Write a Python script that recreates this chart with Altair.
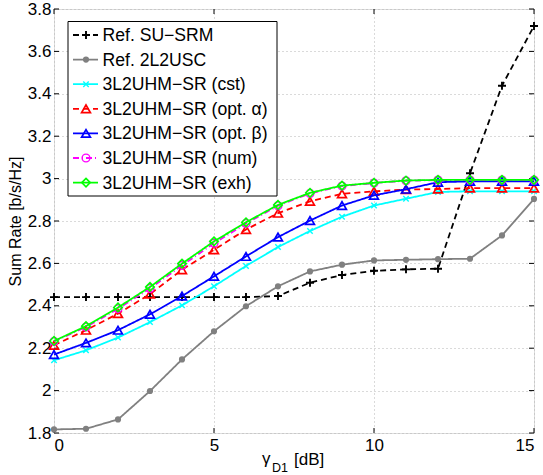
import altair as alt
import pandas as pd

# ---------------- data ----------------
x_db = list(range(16))
ref_su_srm = [2.441, 2.441, 2.441, 2.441, 2.441, 2.441, 2.441, 2.446, 2.509, 2.545, 2.565, 2.572, 2.575, 3.025, 3.438, 3.720]
ref_2l2usc = [1.817, 1.820, 1.864, 1.998, 2.147, 2.280, 2.398, 2.492, 2.562, 2.594, 2.614, 2.617, 2.620, 2.622, 2.732, 2.904]
sr_cst = [2.143, 2.190, 2.250, 2.323, 2.402, 2.492, 2.588, 2.677, 2.753, 2.820, 2.873, 2.905, 2.937, 2.940, 2.940, 2.940]
sr_opt_alpha = [2.214, 2.285, 2.363, 2.455, 2.570, 2.664, 2.760, 2.837, 2.893, 2.928, 2.940, 2.948, 2.951, 2.955, 2.955, 2.955]
sr_opt_beta = [2.170, 2.225, 2.285, 2.360, 2.446, 2.539, 2.633, 2.724, 2.802, 2.873, 2.921, 2.950, 2.983, 2.987, 2.987, 2.987]
sr_num = [2.232, 2.300, 2.386, 2.482, 2.590, 2.695, 2.788, 2.872, 2.930, 2.965, 2.979, 2.990, 2.993, 2.993, 2.993, 2.993]
sr_exh = [2.234, 2.304, 2.392, 2.489, 2.599, 2.704, 2.794, 2.876, 2.933, 2.967, 2.980, 2.991, 2.994, 2.994, 2.994, 2.994]

series_labels = ["Ref. SU\u2212SRM", "Ref. 2L2USC", "3L2UHM\u2212SR (cst)", "3L2UHM\u2212SR (opt. \u03b1)",
                 "3L2UHM\u2212SR (opt. \u03b2)", "3L2UHM\u2212SR (num)", "3L2UHM\u2212SR (exh)"]
series_values = [ref_su_srm, ref_2l2usc, sr_cst, sr_opt_alpha, sr_opt_beta, sr_num, sr_exh]

x_ticks = [0, 5, 10, 15]
y_ticks = [1.8, 2, 2.2, 2.4, 2.6, 2.8, 3, 3.2, 3.4, 3.6, 3.8]

y_title = "Sum Rate [b/s/Hz]"
x_title_main = "\u03b3"
x_title_sub = "D1"
x_title_unit = "[dB]"

# ---------------- style ----------------
FONT = "Liberation Sans"
W, H = 480, 424
LW = 1.8
PLUS = "M-1,0L1,0M0,-1L0,1"
XMARK = "M-1,-1L1,1M-1,1L1,-1"

styles = [
    dict(color="#000000", dash=[6, 4], shape=PLUS, filled=False, size=64, mw=1.9),
    dict(color="#808080", dash=[1, 0], shape="circle", filled=True, size=38, mw=1),
    dict(color="#00FFFF", dash=[1, 0], shape=XMARK, filled=False, size=30, mw=1.4),
    dict(color="#FF0000", dash=[6, 4], shape="triangle-up", filled=False, size=78, mw=1.7),
    dict(color="#0000FF", dash=[1, 0], shape="triangle-up", filled=False, size=78, mw=1.7),
    dict(color="#FF00FF", dash=[6, 3, 1, 3], shape="circle", filled=False, size=60, mw=1.4),
    dict(color="#00FF00", dash=[1, 0], shape="diamond", filled=False, size=72, mw=1.6),
]

xscale = alt.Scale(domain=[0, 15], nice=False, zero=False)
yscale = alt.Scale(domain=[1.8, 3.8], nice=False, zero=False)
xaxis = alt.Axis(values=x_ticks, title=None, grid=True, gridDash=[1, 3], gridColor="#b4b4b4",
                 domain=False, ticks=False, labelPadding=4, labelFont=FONT, labelFontSize=17,
                 labelColor="#000000", format="~g")
yaxis = alt.Axis(values=y_ticks, title=y_title, grid=True, gridDash=[1, 3], gridColor="#b4b4b4",
                 domain=False, ticks=False, labelPadding=3, labelFont=FONT, labelFontSize=17,
                 labelColor="#000000", format="~g", titleFont=FONT, titleFontSize=16,
                 titleFontWeight="normal", titleColor="#000000", titlePadding=4)

X = alt.X("x:Q", scale=xscale, axis=xaxis)
Y = alt.Y("y:Q", scale=yscale, axis=yaxis)

layers = []

# inward ticks on all four sides
ytick_df = pd.DataFrame({"y": y_ticks})
xtick_df = pd.DataFrame({"x": x_ticks})
for xa, xb in [(0, 5), (W - 5, W)]:
    layers.append(alt.Chart(ytick_df).mark_rule(color="#000000", strokeWidth=1).encode(
        y=Y, x=alt.value(xa), x2=alt.value(xb)))
for ya, yb in [(H - 5, H), (0, 5)]:
    layers.append(alt.Chart(xtick_df).mark_rule(color="#000000", strokeWidth=1).encode(
        x=X, y=alt.value(ya), y2=alt.value(yb)))

# data series
def marker(chart, st):
    if st["filled"]:
        return chart.mark_point(shape=st["shape"], size=st["size"], filled=True, fill=st["color"],
                                color=st["color"], opacity=1, strokeWidth=0)
    return chart.mark_point(shape=st["shape"], size=st["size"], filled=False, color=st["color"],
                            strokeWidth=st["mw"], opacity=1)

for label, vals, st in zip(series_labels, series_values, styles):
    df = pd.DataFrame({"x": x_db, "y": vals})
    base = alt.Chart(df)
    layers.append(base.mark_line(color=st["color"], strokeDash=st["dash"], strokeWidth=LW).encode(x=X, y=Y))
    layers.append(marker(base, st).encode(x=X, y=Y))

# legend (drawn by hand to show line + marker)
one = alt.Data(values=[{"k": 1}])
layers.append(alt.Chart(one).mark_rect(fill="#ffffff", stroke="#000000", strokeWidth=1).encode(
    x=alt.value(14), x2=alt.value(223), y=alt.value(12.5), y2=alt.value(187)))
for i, (label, st) in enumerate(zip(series_labels, styles)):
    ly = 26 + 24.6 * i
    layers.append(alt.Chart(one).mark_rule(color=st["color"], strokeDash=st["dash"], strokeWidth=LW).encode(
        x=alt.value(19), x2=alt.value(44), y=alt.value(ly)))
    layers.append(marker(alt.Chart(one), st).encode(x=alt.value(32), y=alt.value(ly)))
    layers.append(alt.Chart(one).mark_text(text=label, align="left", baseline="middle", font=FONT,
                                           fontSize=17.6, color="#000000").encode(
        x=alt.value(48.5), y=alt.value(ly + 1)))

# x-axis title with subscript
layers.append(alt.Chart(one).mark_text(text=x_title_main, align="left", baseline="alphabetic", font=FONT,
                                       fontSize=17, color="#000000").encode(x=alt.value(208), y=alt.value(454.5)))
layers.append(alt.Chart(one).mark_text(text=x_title_sub, align="left", baseline="alphabetic", font=FONT,
                                       fontSize=12.5, color="#000000").encode(x=alt.value(218), y=alt.value(462.5)))
layers.append(alt.Chart(one).mark_text(text=x_title_unit, align="left", baseline="alphabetic", font=FONT,
                                       fontSize=17, color="#000000").encode(x=alt.value(240), y=alt.value(455.5)))

chart = alt.layer(*layers).properties(
    width=W, height=H,
    autosize=alt.AutoSizeParams(type="none"),
    padding={"left": 54, "top": 9, "right": 9, "bottom": 42},
).configure_view(stroke="#000000", strokeWidth=1).configure(background="#ffffff")

chart.save("out.html", embed_options={"renderer": "svg", "actions": False})
